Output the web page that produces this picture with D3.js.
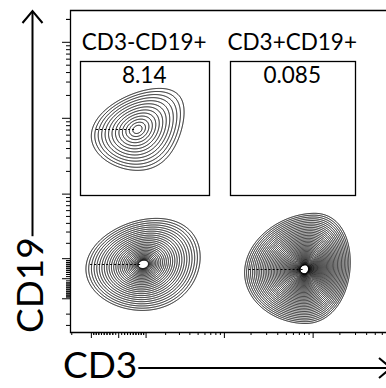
<!DOCTYPE html>
<html>
<head>
<meta charset="utf-8">
<script src="https://cdn.jsdelivr.net/npm/d3@7"></script>
<style>
  html, body { margin: 0; padding: 0; background: #fff; }
</style>
</head>
<body>
<div class="plot-holder"></div>
<script>
// Axis ranges (data units, biexponential display)
const xMin = -208, xMax = 91300;
const yMin = -380, yMax = 262144;
const xMajorTicks = [-100, 0, 100, 1000, 10000];
const yMajorTicks = [-100, 0, 100, 1000, 10000, 100000];

// Populations (centre + outer contour extents)
const popNames = ['CD3-CD19+', 'CD3-CD19-', 'CD3+CD19-'];
const popCenterX = [67, 90, 8150];
const popCenterY = [7080, 68, 43];
const popLeft = [-95, -121, 1713];
const popRight = [321, 525, 26200];
const popTop = [24500, 465, 546];
const popBottom = [2043, -175, -284];
// x of the top-most / bottom-most point of the outer contour
const popTopX = [167, 150, 10500];
const popBottomX = [67, 86, 8300];
const popRings = [13, 28, 44];
const popGamma = [1.0, 1.45, 1.55];
const popCore = [0.1, 0.09, 0.08];

// Gates
const gateNames = ['CD3-CD19+', 'CD3+CD19+'];
const gatePercents = ['8.14', '0.085'];
const gateX0 = [-151, 1158];
const gateX1 = [667, 29900];
const gateY0 = [953, 953];
const gateY1 = [55600, 55600];

const width = 386;
const height = 388;
const plot = { left: 70, top: 10, right: 398, bottom: 332 };
const font = 'Lato, "Open Sans", sans-serif';

const svg = d3.select('.plot-holder').append('svg')
  .attr('width', width)
  .attr('height', height)
  .style('display', 'block');

// asinh transform stands in for the logicle scale
const xCof = 130, yCof = 155;
const tx = v => Math.asinh(v / xCof);
const ty = v => Math.asinh(v / yCof);

const xScale = d3.scaleLinear().domain([tx(xMin), tx(xMax)]).range([plot.left, plot.right]);
const yScale = d3.scaleLinear().domain([ty(yMin), ty(yMax)]).range([plot.bottom, plot.top]);
const X = v => xScale(tx(v));
const Y = v => yScale(ty(v));

// minor ticks: 10..90 then m x 10^p, both signs
function minorTicks(lo, hi) {
  const out = [];
  for (let p = 0; p <= 5; p++) {
    for (let m = 1; m <= 9; m++) {
      if (m === 1 && p > 0) continue;
      const v = m * Math.pow(10, p) * (p === 0 ? 10 : 1);
      [v, -v].forEach(t => { if (t > lo && t < hi) out.push(t); });
    }
  }
  return out;
}

// X axis
svg.append('g')
  .attr('transform', 'translate(0,' + plot.bottom + ')')
  .call(d3.axisBottom(xScale).tickValues(xMajorTicks.map(tx)).tickSize(6).tickFormat(''))
  .call(g => g.select('.domain').remove());
svg.append('g')
  .attr('transform', 'translate(0,' + plot.bottom + ')')
  .call(d3.axisBottom(xScale).tickValues(minorTicks(xMin, xMax).map(tx)).tickSize(3).tickFormat(''))
  .call(g => g.select('.domain').remove());

// Y axis
svg.append('g')
  .attr('transform', 'translate(' + plot.left + ',0)')
  .call(d3.axisLeft(yScale).tickValues(yMajorTicks.map(ty)).tickSize(8).tickFormat(''))
  .call(g => g.select('.domain').remove());
svg.append('g')
  .attr('transform', 'translate(' + plot.left + ',0)')
  .call(d3.axisLeft(yScale).tickValues(minorTicks(yMin, yMax).concat([200000]).map(ty)).tickSize(4).tickFormat(''))
  .call(g => g.select('.domain').remove());

// frame (right side runs off the page)
svg.append('path')
  .attr('d', 'M' + (plot.right) + ',' + (plot.top + 0.5) + 'H' + (plot.left + 0.5) + 'V' + (plot.bottom + 0.5) + 'H' + plot.right)
  .attr('fill', 'none')
  .attr('stroke', '#000')
  .attr('stroke-width', 1.3);

// Contours
const step = 0.35;
popNames.forEach((name, i) => {
  const cx = X(popCenterX[i]), cy = Y(popCenterY[i]);
  const rl = cx - X(popLeft[i]), rr = X(popRight[i]) - cx;
  const ru = cy - Y(popTop[i]), rd = Y(popBottom[i]) - cy;
  // smooth lean of the centre line: shift(dy) = a*dy + b*dy^2
  const sTop = X(popTopX[i]) - cx, sBot = X(popBottomX[i]) - cx;
  const b = (sTop / ru + sBot / rd) / (ru + rd);
  const a = (sBot - b * rd * rd) / rd;
  const pad = 16;
  const gx0 = cx - rl - pad, gy0 = cy - ru - pad;
  const gw = Math.ceil((rl + rr + 2 * pad + Math.abs(sTop) + Math.abs(sBot)) / step);
  const gh = Math.ceil((ru + rd + 2 * pad) / step);
  const values = new Float64Array(gw * gh);
  for (let j = 0; j < gh; j++) {
    const dy = gy0 + j * step - cy;
    const shift = a * dy + b * dy * dy;
    const ey = dy / (dy < 0 ? ru : rd);
    for (let k = 0; k < gw; k++) {
      const dx = gx0 + k * step - cx - shift;
      const ex = dx / (dx < 0 ? rl : rr);
      values[j * gw + k] = 1 - Math.sqrt(ex * ex + ey * ey);
    }
  }
  const n = popRings[i], rho0 = popCore[i];
  const levels = d3.range(n).map(k => 1 - (rho0 + (1 - rho0) * Math.pow(k / (n - 1), popGamma[i])));
  const rings = d3.contours().size([gw, gh]).thresholds(levels)(values);
  const path = d3.geoPath(d3.geoIdentity().scale(step).translate([gx0, gy0]));

  svg.append('g')
    .attr('class', 'pop')
    .selectAll('path')
    .data(rings)
    .join('path')
    .attr('d', path)
    .attr('fill', 'none')
    .attr('stroke', '#000')
    .attr('stroke-width', 1);

  // the dotted streak running into each centre
  svg.append('line')
    .attr('x1', cx - rl + 4)
    .attr('x2', cx - 2)
    .attr('y1', Math.round(cy) + 0.5)
    .attr('y2', Math.round(cy) + 0.5)
    .attr('stroke', '#000')
    .attr('stroke-width', 1)
    .attr('stroke-dasharray', '2,2');
});

// Gates
gateNames.forEach((name, i) => {
  const x0 = X(gateX0[i]), x1 = X(gateX1[i]);
  const y0 = Y(gateY1[i]), y1 = Y(gateY0[i]);
  svg.append('rect')
    .attr('x', Math.round(x0) + 0.5)
    .attr('y', Math.round(y0) + 0.5)
    .attr('width', Math.round(x1 - x0))
    .attr('height', Math.round(y1 - y0))
    .attr('fill', 'none')
    .attr('stroke', '#000')
    .attr('stroke-width', 1.3);

  svg.append('text')
    .attr('x', (x0 + x1) / 2)
    .attr('y', y0 - 11)
    .attr('text-anchor', 'middle')
    .style('font-family', font)
    .style('font-size', '22.5px')
    .text(name);

  svg.append('text')
    .attr('x', (x0 + x1) / 2)
    .attr('y', y0 + 22)
    .attr('text-anchor', 'middle')
    .style('font-family', font)
    .style('font-size', '22.5px')
    .text(gatePercents[i]);
});

// Axis titles with arrows
const xTitle = svg.append('text')
  .attr('x', 63)
  .attr('y', 378)
  .style('font-family', font)
  .style('font-size', '37px')
  .text('CD3');
const xEnd = 63 + xTitle.node().getComputedTextLength();

svg.append('line')
  .attr('x1', xEnd + 1).attr('x2', 390)
  .attr('y1', 368).attr('y2', 368)
  .attr('stroke', '#000').attr('stroke-width', 2);
svg.append('path')
  .attr('d', 'M379,358L391,368L379,378')
  .attr('fill', 'none').attr('stroke', '#000').attr('stroke-width', 2);

const yTitle = svg.append('text')
  .attr('transform', 'translate(43,333) rotate(-90)')
  .style('font-family', font)
  .style('font-size', '37px')
  .text('CD19');
const yEnd = 333 - yTitle.node().getComputedTextLength();

svg.append('line')
  .attr('x1', 32.5).attr('x2', 32.5)
  .attr('y1', yEnd - 1).attr('y2', 11)
  .attr('stroke', '#000').attr('stroke-width', 2);
svg.append('path')
  .attr('d', 'M22.5,23L32.5,11L42.5,23')
  .attr('fill', 'none').attr('stroke', '#000').attr('stroke-width', 2);
</script>
</body>
</html>
